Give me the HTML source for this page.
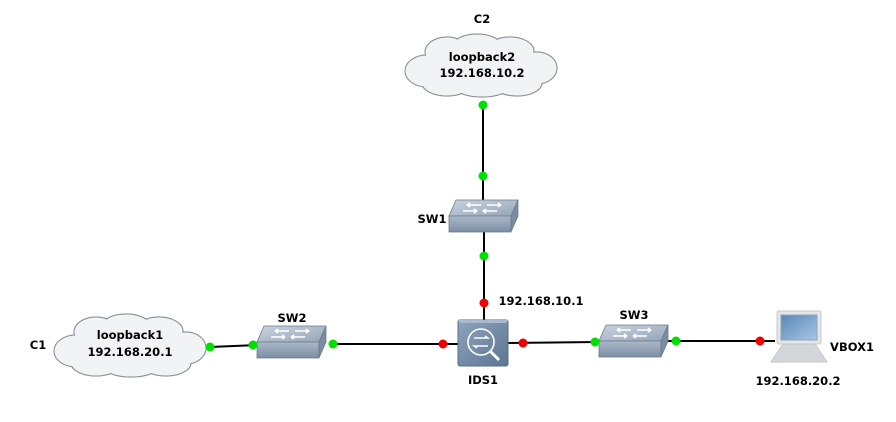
<!DOCTYPE html>
<html><head><style>
html,body{margin:0;padding:0;background:#fff;}
svg{display:block;}
text{font-family:"DejaVu Sans","Liberation Sans",Verdana,sans-serif;font-weight:bold;font-size:11.5px;fill:#000;}
</style></head><body>
<svg width="896" height="422" viewBox="0 0 896 422" xmlns="http://www.w3.org/2000/svg">
<defs>
<linearGradient id="sw" x1="0" y1="0" x2="0" y2="1"><stop offset="0" stop-color="#aab8c8"/><stop offset="1" stop-color="#7d8ea3"/></linearGradient>
<linearGradient id="swt" x1="0" y1="0" x2="1" y2="1"><stop offset="0" stop-color="#c9d3de"/><stop offset="1" stop-color="#95a5b8"/></linearGradient>
<linearGradient id="ids" x1="0" y1="0" x2="1" y2="1"><stop offset="0" stop-color="#8fa4bd"/><stop offset="1" stop-color="#5d7593"/></linearGradient>
<linearGradient id="scr" x1="0" y1="0" x2="1" y2="1"><stop offset="0" stop-color="#5a86b8"/><stop offset="1" stop-color="#a8c6e3"/></linearGradient>
<g id="switch">
 <polygon points="7,0 69,0 62,16 0,16" fill="url(#swt)" stroke="#6a7a8c" stroke-width="0.8"/>
 <polygon points="0,16 62,16 62,32 0,32" fill="url(#sw)" stroke="#6a7a8c" stroke-width="0.8"/>
 <polygon points="62,16 69,0 69,16 62,32" fill="#7c8da1" stroke="#6a7a8c" stroke-width="0.8"/>
 <g stroke="#fff" stroke-width="1.6" fill="none">
  <path d="M18,5 L32,5 M18,5 l3,-2 M18,5 l3,2"/>
  <path d="M38,5 L52,5 M52,5 l-3,-2 M52,5 l-3,2"/>
  <path d="M14,11 L28,11 M28,11 l-3,-2 M28,11 l-3,2"/>
  <path d="M34,11 L48,11 M34,11 l3,-2 M34,11 l3,2"/>
 </g>
</g>
<g id="cloud">
 <g fill="none" stroke="#8a9299" stroke-width="1.2">
  <ellipse cx="-55" cy="5" rx="22" ry="16"/><ellipse cx="-35" cy="-14" rx="22" ry="15"/>
  <ellipse cx="-5" cy="-19" rx="25" ry="13"/><ellipse cx="28" cy="-15" rx="24" ry="14"/>
  <ellipse cx="55" cy="2" rx="20" ry="16"/><ellipse cx="35" cy="17" rx="25" ry="13"/>
  <ellipse cx="0" cy="20" rx="28" ry="11"/><ellipse cx="-35" cy="17" rx="25" ry="13"/>
 </g>
 <g fill="#f1f3f5">
  <ellipse cx="-55" cy="5" rx="21.4" ry="15.4"/><ellipse cx="-35" cy="-14" rx="21.4" ry="14.4"/>
  <ellipse cx="-5" cy="-19" rx="24.4" ry="12.4"/><ellipse cx="28" cy="-15" rx="23.4" ry="13.4"/>
  <ellipse cx="55" cy="2" rx="19.4" ry="15.4"/><ellipse cx="35" cy="17" rx="24.4" ry="12.4"/>
  <ellipse cx="0" cy="20" rx="27.4" ry="10.4"/><ellipse cx="-35" cy="17" rx="24.4" ry="12.4"/>
  <ellipse cx="0" cy="0" rx="60" ry="20"/>
 </g>
</g>
</defs>
<g stroke="#000" stroke-width="2">
 <line x1="483" y1="105" x2="483" y2="205"/>
 <line x1="484" y1="228" x2="484" y2="322"/>
 <line x1="210" y1="347" x2="257" y2="345"/>
 <line x1="330" y1="344" x2="458" y2="344"/>
 <line x1="508" y1="343" x2="598" y2="342"/>
 <line x1="668" y1="341" x2="775" y2="341"/>
</g>
<use href="#cloud" x="482" y="66"/>
<use href="#cloud" x="131" y="346"/>
<use href="#switch" x="449" y="200"/>
<use href="#switch" x="257" y="326"/>
<use href="#switch" x="599" y="325"/>
<!-- IDS -->
<rect x="458" y="320" width="50" height="46" rx="2" fill="url(#ids)" stroke="#5a6e86"/>
<polygon points="458,320 508,320 506,323 460,323" fill="#a9bad0"/>
<circle cx="481" cy="342" r="13" fill="none" stroke="#fff" stroke-width="1.6"/>
<line x1="490" y1="351" x2="499" y2="360" stroke="#fff" stroke-width="3"/>
<g stroke="#fff" stroke-width="1.4" fill="none"><path d="M474,338 L488,338 l-3,-2"/><path d="M488,346 L474,346 l3,2"/></g>
<!-- VBOX -->
<rect x="777" y="311" width="44" height="33" rx="2" fill="#e4e6e8" stroke="#c6c9cc"/>
<rect x="781" y="315" width="36" height="25" fill="url(#scr)" stroke="#8ea6bd"/>
<polygon points="783,344 815,344 827,362 771,362" fill="#d4d7da" stroke="#c2c5c8"/>
<!-- dots -->
<g fill="#00e000">
 <circle cx="483" cy="105" r="4.5"/><circle cx="483" cy="176" r="4.5"/><circle cx="484" cy="256" r="4.5"/>
 <circle cx="210" cy="347" r="4.5"/><circle cx="253" cy="345" r="4.5"/><circle cx="333" cy="344" r="4.5"/>
 <circle cx="595" cy="342" r="4.5"/><circle cx="676" cy="341" r="4.5"/>
</g>
<g fill="#f00000">
 <circle cx="484" cy="303" r="4.5"/><circle cx="443" cy="344" r="4.5"/><circle cx="523" cy="343" r="4.5"/><circle cx="760" cy="341" r="4.5"/>
</g>
<!-- labels -->
<text x="482" y="23" text-anchor="middle">C2</text>
<text x="482" y="61" text-anchor="middle">loopback2</text>
<text x="482" y="77" text-anchor="middle">192.168.10.2</text>
<text x="432" y="223" text-anchor="middle">SW1</text>
<text x="541" y="305" text-anchor="middle">192.168.10.1</text>
<text x="483" y="384" text-anchor="middle">IDS1</text>
<text x="38" y="349" text-anchor="middle">C1</text>
<text x="130" y="339" text-anchor="middle">loopback1</text>
<text x="130" y="356" text-anchor="middle">192.168.20.1</text>
<text x="292" y="322" text-anchor="middle">SW2</text>
<text x="634" y="319" text-anchor="middle">SW3</text>
<text x="852" y="351" text-anchor="middle">VBOX1</text>
<text x="798" y="385" text-anchor="middle">192.168.20.2</text>
</svg>
</body></html>
